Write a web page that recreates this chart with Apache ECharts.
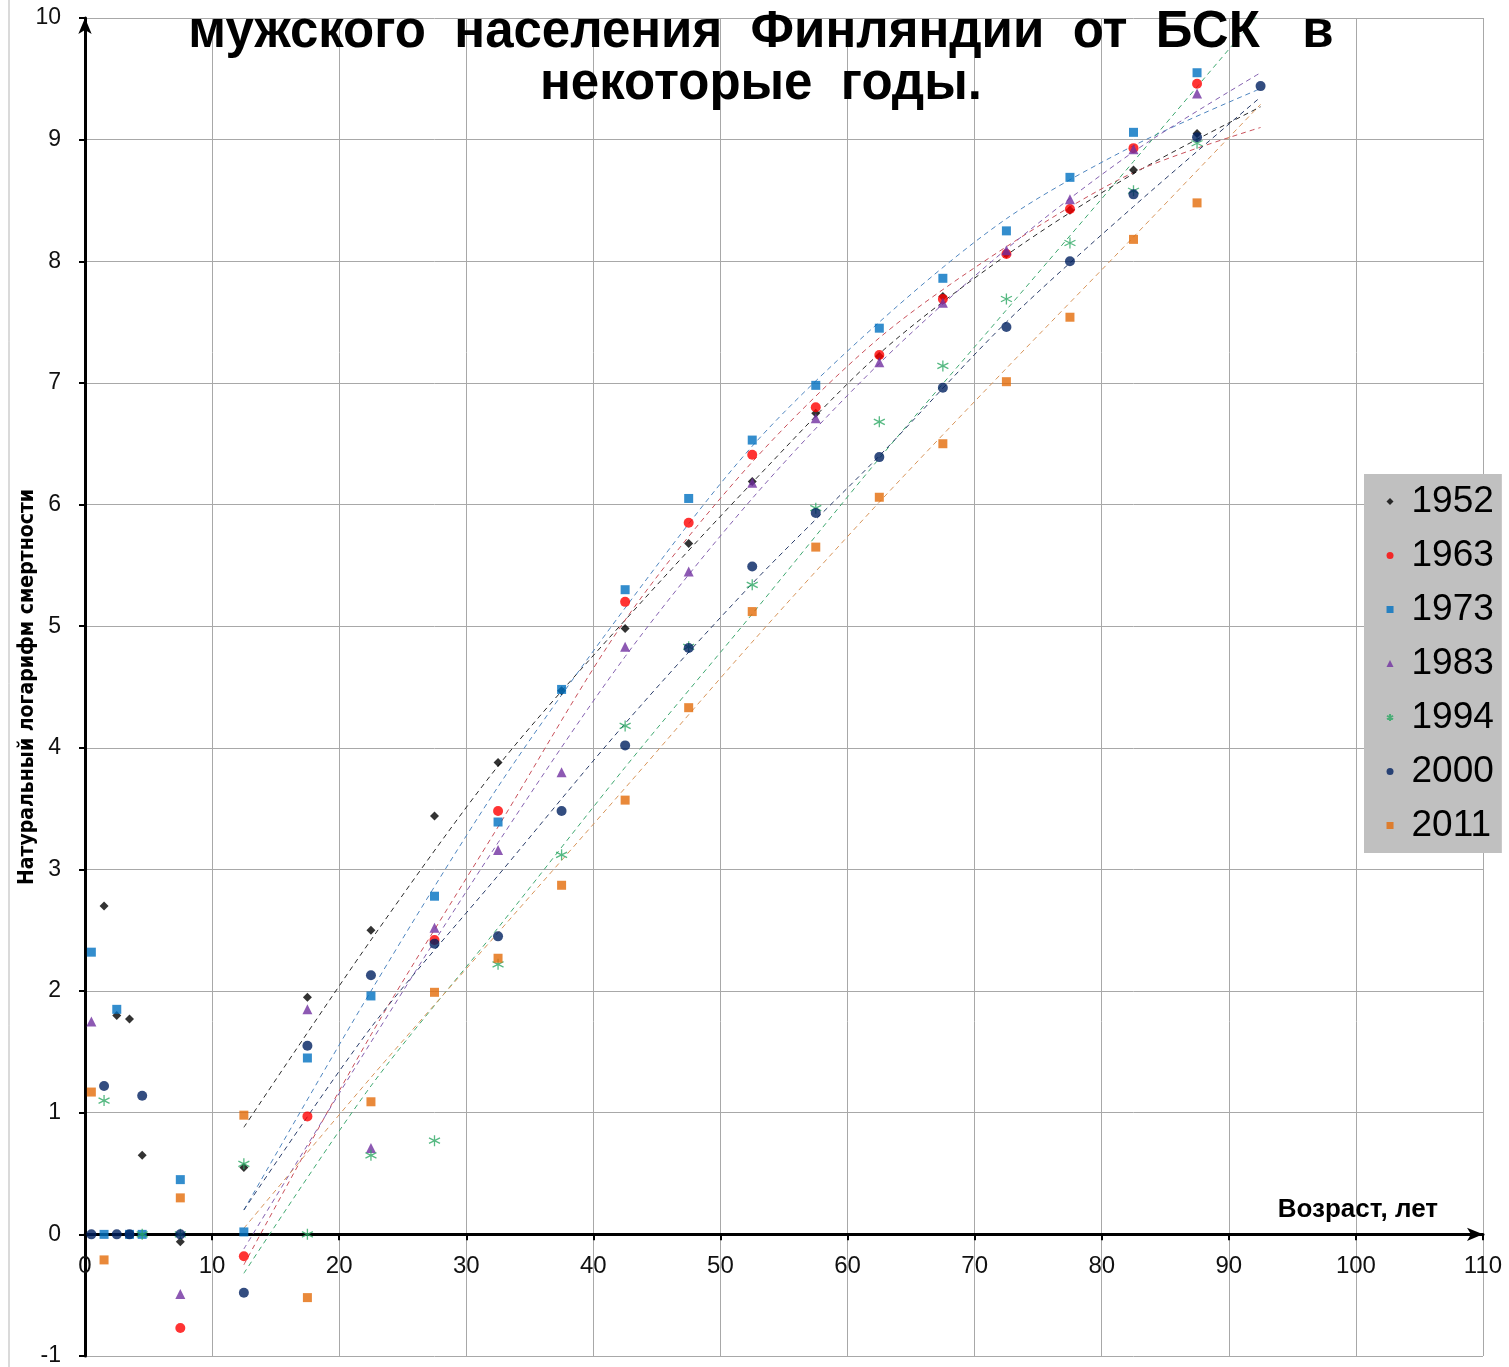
<!DOCTYPE html>
<html><head><meta charset="utf-8">
<script src="https://cdn.jsdelivr.net/npm/echarts@6/dist/echarts.min.js"></script>
<style>html,body{margin:0;padding:0;background:#fff}#c{width:1509px;height:1367px}</style>
</head><body><div id="c"></div>
<script>
const ages = [0.5,1.5,2.5,3.5,4.5,7.5,12.5,17.5,22.5,27.5,32.5,37.5,42.5,47.5,52.5,57.5,62.5,67.5,72.5,77.5,82.5,87.5,92.5];
const years = ['1952','1963','1973','1983','1994','2000','2011'];
const v1952 = [null,2.70,1.80,1.77,0.65,-0.06,0.55,1.95,2.50,3.44,3.88,4.47,4.98,5.68,6.19,6.75,7.22,7.71,8.06,8.42,8.75,9.05,null];
const v1963 = [null,null,null,null,null,-0.77,-0.18,0.97,null,2.42,3.48,null,5.20,5.85,6.41,6.80,7.23,7.69,8.06,8.43,8.93,9.46,null];
const v1973 = [2.32,0,1.85,0,0,0.45,0.02,1.45,1.96,2.78,3.39,4.48,5.30,6.05,6.53,6.98,7.45,7.86,8.25,8.69,9.06,9.55,null];
const v1983 = [1.75,null,null,null,null,-0.49,null,1.85,0.71,2.52,3.16,3.80,4.83,5.45,6.18,6.71,7.17,7.66,8.09,8.51,8.92,9.38,null];
const v1994 = [null,1.10,null,null,0,0,0.58,0,0.65,0.77,2.22,3.12,4.18,4.83,5.34,5.97,6.68,7.14,7.69,8.15,8.58,8.97,null];
const v2000 = [0,1.22,0,0,1.14,0,-0.48,1.55,2.13,2.39,2.45,3.48,4.02,4.82,5.49,5.93,6.39,6.96,7.46,8.00,8.55,9.02,9.44];
const v2011 = [1.17,-0.21,null,null,null,0.30,0.98,-0.52,1.09,1.99,2.27,2.87,3.57,4.33,5.12,5.65,6.06,6.50,7.01,7.54,8.18,8.48,null];

// trend lines
const trendAges = [12.5,22.5,32.5,42.5,52.5,62.5,72.5,82.5,92.5];
const t1952 = [0.88,2.42,3.85,5.05,6.18,7.24,8.05,8.72,9.27];
const t1963 = [-0.25,1.64,3.35,5.05,6.35,7.37,8.12,8.73,9.10];
const t1973 = [0.20,2.00,3.68,5.15,6.48,7.50,8.35,8.95,9.42];
const t1983 = [-0.12,1.58,3.22,4.75,6.05,7.16,8.10,8.90,9.55];
const t1994 = [-0.32,1.22,2.52,3.84,5.10,6.38,7.60,8.82,10.05];
const t2000 = [0.20,1.70,2.95,4.20,5.35,6.40,7.50,8.45,9.35];
const t2011 = [0.05,1.29,2.48,3.67,4.87,6.02,7.12,8.20,9.29];

const titleText = 'мужского  населения  Финляндии  от  БСК   в\nнекоторые  годы.';
const xName = 'Возраст, лет';
const yName = 'Натуральный логарифм смертности';

const values = [v1952,v1963,v1973,v1983,v1994,v2000,v2011];
const trends = [t1952,t1963,t1973,t1983,t1994,t2000,t2011];
const colors = ['#000000','#ff0000','#0070c0','#7030a0','#2ca863','#002060','#e36c09'];
const trendColors = ['#2a2a2a','#c9505a','#4f86c0','#8460b0','#3fa870','#2a3d6a','#d8955a'];
const symbols = ['diamond','circle','rect','triangle','path://M5,0 L5,10 M0.67,2.5 L9.33,7.5 M9.33,2.5 L0.67,7.5','circle','rect'];
const sizes = [9,10,9,10,11,10,9];

const pair = (xs, ys) => xs.map((x,i) => [x, ys[i]]).filter(p => p[1] !== null);

const series = [];
years.forEach((y,i) => {
  series.push({
    name: 'trend' + y, type: 'line', data: pair(trendAges, trends[i]),
    smooth: 0.3, symbol: 'none', silent: true, z: 2,
    lineStyle: {color: trendColors[i], width: 1, type: [5,4]}
  });
});
years.forEach((y,i) => {
  const isStar = i === 4;
  series.push({
    name: y, type: 'scatter', data: pair(ages, values[i]),
    symbol: symbols[i], symbolSize: sizes[i], z: 5,
    itemStyle: isStar ? {color: 'rgba(0,0,0,0)', borderColor: colors[i], borderWidth: 1.3}
                      : {color: colors[i]}
  });
});

const gridTop = 18, gridBottom = 11, H = 1367;
const unitPx = (H - gridTop - gridBottom) / 11;

const chart = echarts.init(document.getElementById('c'));
chart.setOption({
  animation: false,
  backgroundColor: '#fff',
  title: {
    text: titleText, left: 761, textAlign: 'center', top: 7, padding: 0,
    textStyle: {fontFamily: 'Liberation Sans', fontWeight: 'bold', fontSize: 51, lineHeight: 52, color: '#000'}
  },
  legend: {
    data: years, orient: 'vertical', left: 1364, top: 474,
    backgroundColor: '#c0c0c0', padding: [9, 8, 9, 22],
    itemWidth: 7, itemHeight: 7, itemGap: 17,
    textStyle: {fontFamily: 'Liberation Sans', fontSize: 37, lineHeight: 36, color: '#000', padding: [0,0,0,13]}
  },
  grid: {left: 85, right: 26, top: gridTop, bottom: gridBottom, containLabel: false, outerBoundsMode: 'none'},
  xAxis: {
    type: 'value', min: 0, max: 110, interval: 10,
    position: 'bottom', offset: -unitPx,
    name: xName, nameLocation: 'end', nameGap: -45,
    nameTextStyle: {fontFamily: 'Liberation Sans', fontWeight: 'bold', fontSize: 26, color: '#000', align: 'right', verticalAlign: 'bottom', padding: [0,0,12,0]},
    axisLine: {onZero: false, symbol: ['none','arrow'], symbolSize: [10,16], lineStyle: {color: '#000', width: 3}},
    axisTick: {show: true, length: 6, lineStyle: {color: '#000', width: 2}},
    axisLabel: {fontFamily: 'Liberation Sans', fontSize: 24, color: '#111', margin: 20},
    splitLine: {show: true, lineStyle: {color: '#a8a8a8', width: 1}}
  },
  yAxis: {
    type: 'value', min: -1, max: 10, interval: 1,
    name: yName, nameLocation: 'middle', nameGap: 47, nameRotate: 90, nameMoveOverlap: false,
    nameTextStyle: {fontFamily: "'Liberation Sans Narrow','DejaVu Sans Condensed','Liberation Sans',sans-serif", fontWeight: 'bold', fontSize: 21, color: '#000'},
    axisLine: {onZero: false, symbol: ['none','arrow'], symbolSize: [10,16], lineStyle: {color: '#000', width: 3}},
    axisTick: {show: true, length: 6, lineStyle: {color: '#000', width: 2}},
    axisLabel: {fontFamily: 'Liberation Sans', fontSize: 23, color: '#111', margin: 24},
    splitLine: {show: true, lineStyle: {color: '#a8a8a8', width: 1}}
  },
  graphic: [{type: 'line', shape: {x1: 9, y1: 0, x2: 9, y2: 1367}, style: {stroke: '#b5b5b5', lineWidth: 1}, silent: true}],
  series: series
});
</script></body></html>
